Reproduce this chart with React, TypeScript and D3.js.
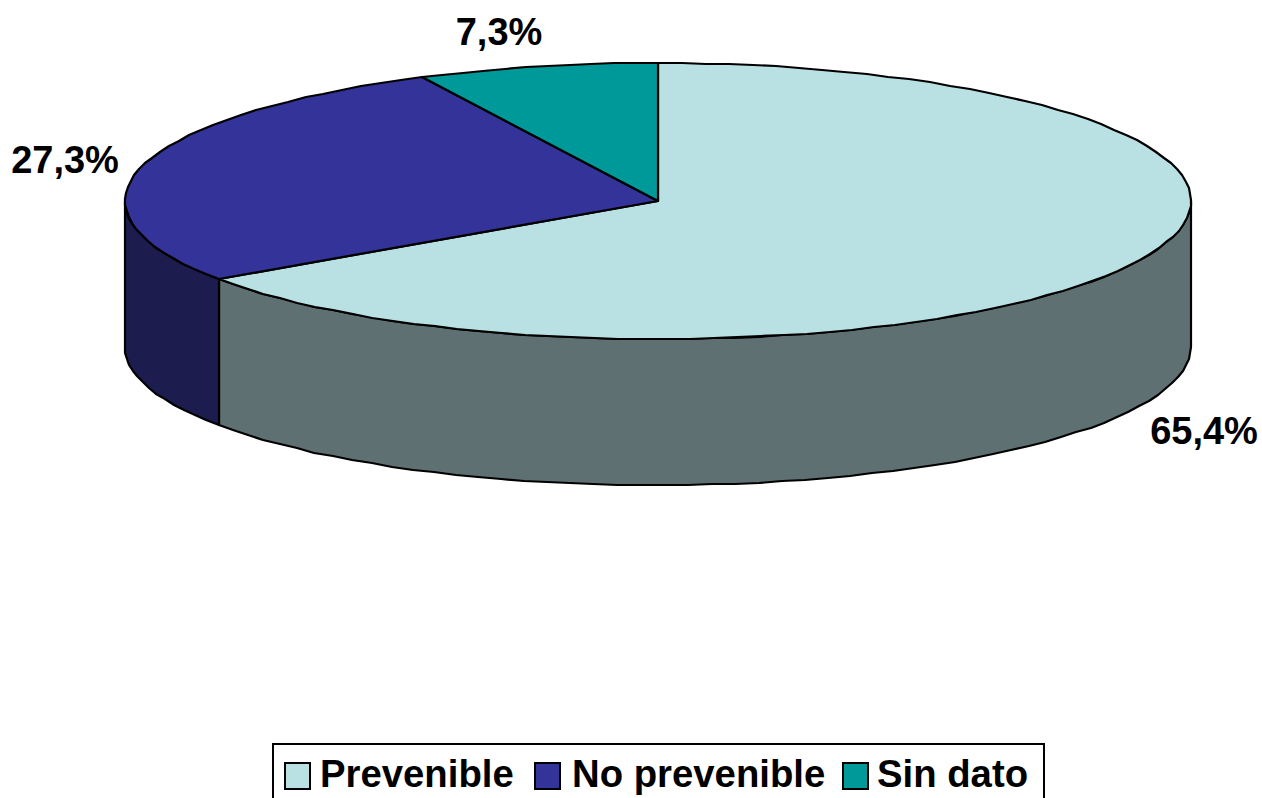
import * as d3 from "d3";

// Share of cases by category, in percent.
const categories = ["Prevenible", "No prevenible", "Sin dato"];
const values = [65.4, 27.3, 7.3];
const valueLabels = ["65,4%", "27,3%", "7,3%"];
const topColors = ["#B9E0E3", "#333399", "#009999"];
const sideColors = ["#5F7072", "#1C1C4F", "#004D4D"];

const WIDTH = 1262;
const HEIGHT = 798;
const CX = 658;
const CY = 201;
const RX = 533;
const RY = 138;
const DEPTH = 146;
const FONT = "'Liberation Sans', Arial, sans-serif";

// Label anchors (centre x, baseline y) for each slice.
const labelX = [1204, 65, 499];
const labelY = [444, 173, 45];

// Legend layout.
const legendBox = { x: 273, y: 744, w: 771, h: 60 };
const swatchX = [285, 535, 843];
const legendTextX = [320, 572, 877];

// Angles run clockwise from twelve o'clock.
const arcs = d3
  .pie<number>()
  .sort(null)
  .startAngle(0)
  .endAngle(2 * Math.PI)(values);

const ex = d3.scaleLinear().domain([-1, 1]).range([CX - RX, CX + RX]);
const ey = d3.scaleLinear().domain([-1, 1]).range([CY - RY, CY + RY]);

// Rim points snap to whole pixels, giving the outline its stepped metafile look.
const rim = (a: number, drop = 0): [number, number] => [
  Math.round(ex(Math.sin(a))),
  Math.round(ey(-Math.cos(a)) + drop),
];

const samples = (a0: number, a1: number): number[] => {
  const n = Math.max(2, Math.ceil(Math.abs(a1 - a0) / 0.045));
  return d3.range(n + 1).map((i) => a0 + ((a1 - a0) * i) / n);
};

const line = d3.line();

const topPath = (a0: number, a1: number) =>
  line([[CX, CY], ...samples(a0, a1).map((a) => rim(a))]) + "Z";

// The wall is only visible on the front half of the disc.
const wallPath = (a0: number, a1: number) => {
  const s = Math.max(a0, Math.PI / 2);
  const e = Math.min(a1, (3 * Math.PI) / 2);
  if (e <= s) return null;
  const upper = samples(s, e).map((a) => rim(a));
  const lower = samples(e, s).map((a) => rim(a, DEPTH));
  return line([...upper, ...lower]) + "Z";
};

export default function App() {
  return (
    <svg
      width={WIDTH}
      height={HEIGHT}
      viewBox={`0 0 ${WIDTH} ${HEIGHT}`}
      style={{ position: "absolute", left: 0, top: 0, display: "block", background: "#fff" }}
    >
      {/* Walls first, then the top face over them */}
      <g stroke="#000" strokeWidth={2.2} strokeLinejoin="round">
        {arcs.map((d, i) => {
          const p = wallPath(d.startAngle, d.endAngle);
          return p ? <path key={i} d={p} fill={sideColors[i]} /> : null;
        })}
        {arcs.map((d, i) => (
          <path key={i} d={topPath(d.startAngle, d.endAngle)} fill={topColors[i]} />
        ))}
      </g>

      <g fontFamily={FONT} fontWeight="bold" fontSize={38} fill="#000" textAnchor="middle">
        {valueLabels.map((t, i) => (
          <text key={t} x={labelX[i]} y={labelY[i]}>
            {t}
          </text>
        ))}
      </g>

      <rect
        x={legendBox.x}
        y={legendBox.y}
        width={legendBox.w}
        height={legendBox.h}
        fill="#fff"
        stroke="#000"
        strokeWidth={2}
      />
      {categories.map((c, i) => (
        <g key={c}>
          <rect
            x={swatchX[i]}
            y={763}
            width={25}
            height={26}
            fill={topColors[i]}
            stroke="#000"
            strokeWidth={2}
          />
          <text
            x={legendTextX[i]}
            y={787}
            fontFamily={FONT}
            fontWeight="bold"
            fontSize={38.3}
            fill="#000"
          >
            {c}
          </text>
        </g>
      ))}
    </svg>
  );
}
